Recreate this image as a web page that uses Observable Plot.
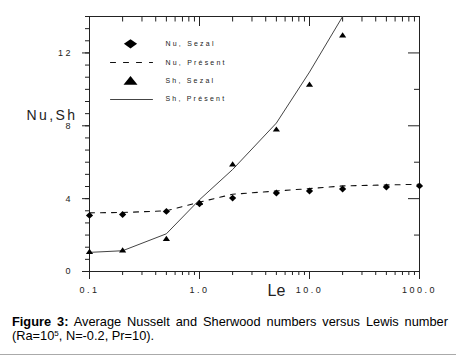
<!DOCTYPE html>
<html>
<head>
<meta charset="utf-8">
<script src="https://cdn.jsdelivr.net/npm/d3@7"></script>
<script src="https://cdn.jsdelivr.net/npm/@observablehq/plot@0.6"></script>
<style>
  html, body { margin: 0; padding: 0; background: #fff; }
  #wrap { width: 456px; height: 357px; position: relative; overflow: hidden; }
  g[aria-label="x-axis tick label"] text, g[aria-label="y-axis tick label"] text { letter-spacing: 2.5px; }
  #caption {
    position: absolute; left: 12px; top: 315px; width: 436px;
    font-family: "Liberation Sans", Arial, sans-serif; font-size: 12.8px; line-height: 14px;
    text-align: justify; text-align-last: left; color: #000;
  }
  #caption sup { font-size: 8px; line-height: 0; vertical-align: 4px; }
  #rule { position: absolute; left: 0; top: 354px; width: 456px; height: 0; border-top: 1.5px solid #aaa; }
</style>
</head>
<body>
<div id="wrap">
  <div id="chart"></div>
  <div id="caption"><b>Figure 3:</b> Average Nusselt and Sherwood numbers versus Lewis number (Ra=10<sup>5</sup>, N=-0.2, Pr=10).</div>
  <div id="rule"></div>
</div>
<script>
// ---- data ----
const leNu = [0.1, 0.2, 0.5, 1, 2, 5, 10, 20, 50, 100];
const nuSezal = [3.08, 3.13, 3.30, 3.72, 4.03, 4.31, 4.42, 4.53, 4.64, 4.70];
const nuPresent = [3.22, 3.24, 3.33, 3.81, 4.24, 4.42, 4.55, 4.70, 4.75, 4.79];
const leSh = [0.1, 0.2, 0.5, 1, 2, 5, 10, 20];
const shSezal = [1.09, 1.18, 1.81, 3.78, 5.90, 7.81, 10.28, 12.98];
const shPresent = [1.05, 1.14, 2.07, 3.94, 5.60, 8.15, 10.95, 14.0];

const xMajor = [0.1, 1, 10, 100];
const xTickLabels = ["0.1", "1.0", "10.0", "100.0"];
const xMinor = [0.2,0.3,0.4,0.5,0.6,0.7,0.8,0.9, 2,3,4,5,6,7,8,9, 20,30,40,50,60,70,80,90];
const yMajor = [0, 4, 8, 12];
const yTickLabels = ["0", "4", "8", "12"];
const yMinor = d3.range(0, 22).map(k => k * 2 / 3);
const yRightMajor = [4, 8, 12];
const yRightMinor = [2, 6, 10];
const legendLabels = ["Nu, Sezal", "Nu, Présent", "Sh, Sezal", "Sh, Présent"];
const legendOffsets = [27.3, 46, 64, 82.7];
const yTitle = "Nu,Sh";
const xTitle = "Le";

const nuSezalData = leNu.map((x, i) => ({x, y: nuSezal[i]}));
const nuPresentData = leNu.map((x, i) => ({x, y: nuPresent[i]}));
const shSezalData = leSh.map((x, i) => ({x, y: shSezal[i]}));
const shPresentData = leSh.map((x, i) => ({x, y: shPresent[i]}));

// custom symbols
function diamond(aspect) {
  return {draw(ctx, size) {
    const r = Math.sqrt(size / Math.PI);
    const h = r * aspect;
    ctx.moveTo(0, -h); ctx.lineTo(r, 0); ctx.lineTo(0, h); ctx.lineTo(-r, 0); ctx.closePath();
  }};
}
function triangle(aspect) {
  return {draw(ctx, size) {
    const r = Math.sqrt(size / Math.PI);
    const h = r * aspect;
    ctx.moveTo(0, -h * 0.6); ctx.lineTo(r, h * 0.4 + 0.5); ctx.lineTo(-r, h * 0.4 + 0.5); ctx.closePath();
  }};
}
const segShape = {draw(ctx, l) { ctx.moveTo(0, 0); ctx.lineTo(0, -l); }};

const font = "Liberation Sans, Arial, sans-serif";
const one = [0];

const legendTextMarks = legendLabels.map((label, i) =>
  Plot.text([label], {text: d => d, frameAnchor: "top-left", dx: 76, dy: legendOffsets[i],
    textAnchor: "start", lineAnchor: "middle", fontSize: 7, fill: "#222"}));

const chart = Plot.plot({
  width: 456, height: 300,
  marginLeft: 89, marginRight: 37, marginTop: 16, marginBottom: 29,
  x: {type: "log", domain: [0.1, 100]},
  y: {domain: [0, 14]},
  style: {fontFamily: font, background: "white", color: "#000", overflow: "visible"},
  marks: [
    // axes
    Plot.axisY(yMajor, {anchor: "left", tickSize: 7, tickPadding: 9.5, fontSize: 9, fill: "#222",
      tickFormat: d => yTickLabels[yMajor.indexOf(d)], label: null, stroke: "#222"}),
    Plot.axisY(yMinor, {anchor: "left", tickSize: 4, text: null, label: null, stroke: "#222"}),
    Plot.axisY(yRightMajor, {anchor: "right", tickSize: -12, text: null, label: null, stroke: "#222"}),
    Plot.axisY(yRightMinor, {anchor: "right", tickSize: -6, text: null, label: null, stroke: "#222"}),
    Plot.axisX(xMajor, {anchor: "bottom", tickSize: 8, tickPadding: 7, fontSize: 9, fill: "#222",
      tickFormat: d => xTickLabels[xMajor.indexOf(d)], label: null, stroke: "#222"}),
    Plot.axisX(xMinor, {anchor: "bottom", tickSize: 4, text: null, label: null, stroke: "#222"}),
    Plot.axisX(xMajor, {anchor: "top", tickSize: -9, text: null, label: null, stroke: "#222"}),
    Plot.axisX(xMinor, {anchor: "top", tickSize: -4.5, text: null, label: null, stroke: "#222"}),
    Plot.frame({stroke: "#222"}),
    // axis titles
    Plot.text([yTitle], {text: d => d, frameAnchor: "top-left", dx: -63, dy: 99.5, textAnchor: "start",
      lineAnchor: "middle", fontSize: 14, fill: "#222"}),
    Plot.text([xTitle], {text: d => d, frameAnchor: "bottom", dx: 13, dy: 19.4, textAnchor: "start",
      lineAnchor: "middle", fontSize: 16, fill: "#222"}),
    // data
    Plot.line(nuPresentData, {x: "x", y: "y", stroke: "#111", strokeWidth: 1.1, strokeDasharray: "5,6", clip: true}),
    Plot.line(shPresentData, {x: "x", y: "y", stroke: "#444", strokeWidth: 1, clip: true}),
    Plot.dot(nuSezalData, {x: "x", y: "y", symbol: diamond(0.95), r: 3.6, fill: "#000", stroke: "none"}),
    Plot.dot(shSezalData, {x: "x", y: "y", symbol: triangle(1.3), r: 3.6, fill: "#000", stroke: "none"}),
    // legend
    Plot.dot(one, {frameAnchor: "top-left", dx: 41, dy: 27.3, symbol: diamond(0.7), r: 6.6, fill: "#000", stroke: "none"}),
    Plot.vector(one, {frameAnchor: "top-left", dx: 21, dy: 46, rotate: 90, length: 42, anchor: "start",
      shape: segShape, stroke: "#111", strokeWidth: 1.1, strokeDasharray: "5,8"}),
    Plot.dot(one, {frameAnchor: "top-left", dx: 41, dy: 64.5, symbol: triangle(1.2), r: 7, fill: "#000", stroke: "none"}),
    Plot.vector(one, {frameAnchor: "top-left", dx: 21, dy: 83, rotate: 90, length: 42, anchor: "start",
      shape: segShape, stroke: "#444", strokeWidth: 1}),
    ...legendTextMarks
  ]
});
// letter spacing (styling only)
d3.select(chart).selectAll("text").each(function() {
  const t = this.textContent;
  if (legendLabels.includes(t)) this.style.letterSpacing = "2.2px";
  else if (t === yTitle) this.style.letterSpacing = "2.4px";
});
document.getElementById("chart").appendChild(chart);
</script>
</body>
</html>
